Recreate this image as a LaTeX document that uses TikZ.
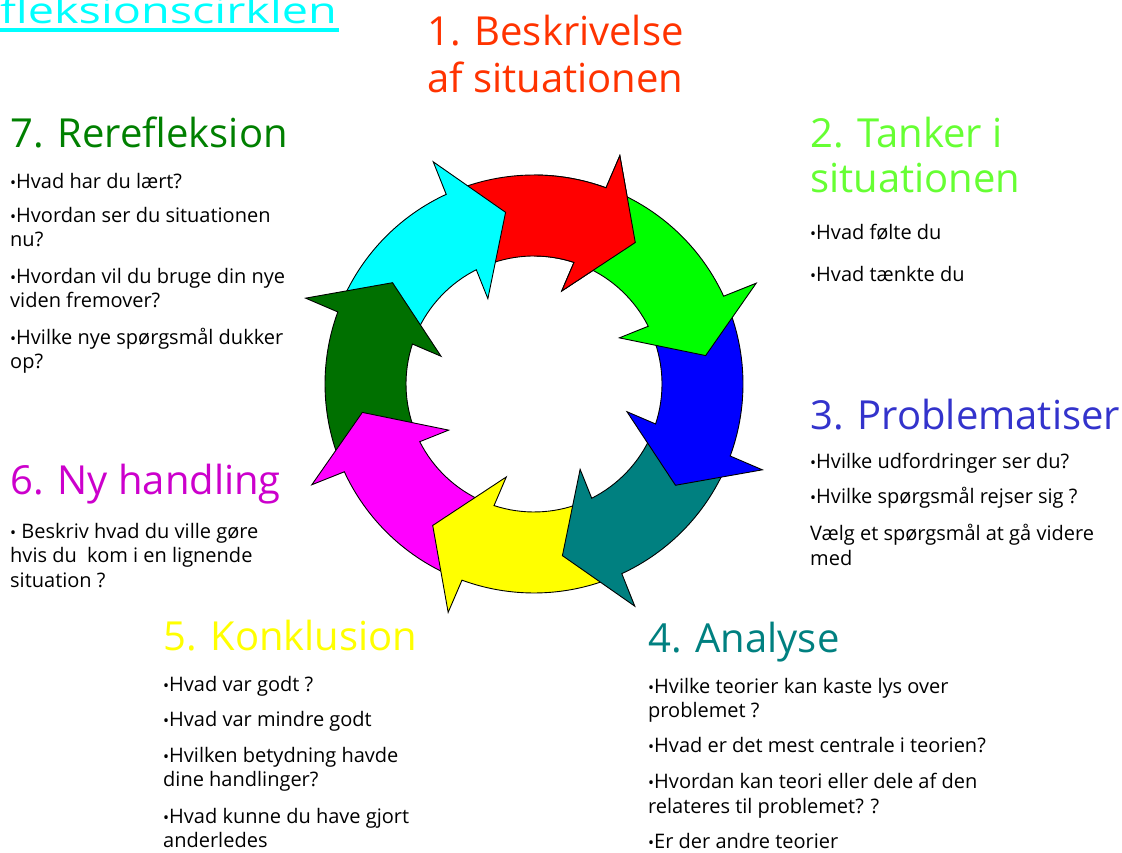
\documentclass[tikz,border=0pt]{standalone}
\usepackage{fontspec}
\setmainfont{Open Sans}
\definecolor{arrowred}{HTML}{FF0000}
\definecolor{arrowgreen}{HTML}{00FF00}
\definecolor{arrowblue}{HTML}{0000FF}
\definecolor{arrowteal}{HTML}{008080}
\definecolor{arrowyellow}{HTML}{FFFF00}
\definecolor{arrowmagenta}{HTML}{FF00FF}
\definecolor{arrowdkgreen}{HTML}{007000}
\definecolor{arrowcyan}{HTML}{00FFFF}
\definecolor{hone}{HTML}{FF3300}
\definecolor{htwo}{HTML}{66FF33}
\definecolor{hthree}{HTML}{3333CC}
\definecolor{hfour}{HTML}{008080}
\definecolor{hfive}{HTML}{FFFF00}
\definecolor{hsix}{HTML}{CC00CC}
\definecolor{hseven}{HTML}{008000}
\definecolor{htitle}{HTML}{00FFFF}
\newcommand\bodyfont{\fontsize{20}{24}\selectfont}
\newcommand\headfont{\fontsize{40}{46}\selectfont}
\newcommand\bul{{\fontsize{16}{16}\selectfont\raisebox{0.5pt}{•}}}
\newcommand\cyclearrow[2]{%
  \filldraw[arrowpart, fill=#2] (#1+57:209) arc[start angle=#1+57, end angle=#1+15.44, radius=209]
    -- (#1+15:244) -- (#1:174) -- (#1+19:97) -- (#1+17.4:128)
    arc[start angle=#1+17.4, end angle=#1+57, radius=128] -- cycle;}
\tikzset{
  body/.style={anchor=base west, inner sep=0pt, font=\bodyfont, text=black},
  head/.style={anchor=base west, inner sep=0pt, font=\headfont},
  arrowpart/.style={draw=black, line width=0.9pt, line join=miter},
  ul/.style={draw=htitle, line width=3.5pt},
}
\begin{document}
\begin{tikzpicture}[x=1pt,y=1pt]
\useasboundingbox (0,0) rectangle (1122,853);
\fill[white] (0,0) rectangle (1122,853);

% cycle of arrows (each head lies over the tail of the next one)
\begin{scope}[shift={(534,469)}]
  \cyclearrow{54.4}{arrowred}
  \cyclearrow{-260.6}{arrowcyan}
  \cyclearrow{-215.6}{arrowdkgreen}
  \cyclearrow{-170.6}{arrowmagenta}
  \cyclearrow{-125.6}{arrowyellow}
  \cyclearrow{-80.6}{arrowteal}
  \cyclearrow{-35.6}{arrowblue}
  \cyclearrow{9.4}{arrowgreen}
  \begin{scope}
    \clip (0,0) -- (35:300) arc[start angle=35, end angle=90, radius=300] -- cycle;
    \cyclearrow{54.4}{arrowred}
  \end{scope}
\end{scope}

% title
\node[head, text=htitle, font=\fontsize{36}{40}\selectfont] (title) at (0,829) {\scalebox{1.3}[1]{fleksionscirklen}};
\draw[ul] ([yshift=-6pt]title.base west) -- ([yshift=-6pt,xshift=2pt]title.base east);

% 1
\node[head, text=hone] (h1a) at (427,807) {1. Beskrivelse};
\node[head, text=hone] (h1b) at (427,760) {af situationen};

% 2
\node[head, text=htwo] (h2a) at (810,705) {2. Tanker i};
\node[head, text=htwo] (h2b) at (810,660) {situationen};
\node[body] (b2a) at (810,613) {\bul Hvad følte du};
\node[body] (b2b) at (810,571) {\bul Hvad tænkte du};

% 3
\node[head, text=hthree] (h3) at (810,423) {3. Problematiser};
\node[body] (b3a) at (810,384) {\bul Hvilke udfordringer ser du?};
\node[body] (b3b) at (810,349) {\bul Hvilke spørgsmål rejser sig ?};
\node[body] (b3c) at (810,312) {Vælg et spørgsmål at gå videre};
\node[body] (b3d) at (810,287) {med};

% 4
\node[head, text=hfour] (h4) at (648,200) {4. Analyse};
\node[body] (b4a) at (648,159) {\bul Hvilke teorier kan kaste lys over};
\node[body] (b4b) at (648,135) {problemet ?};
\node[body] (b4c) at (648,100) {\bul Hvad er det mest centrale i teorien?};
\node[body] (b4d) at (648,64) {\bul Hvordan kan teori eller dele af den};
\node[body] (b4e) at (648,39) {relateres til problemet? ?};
\node[body] (b4f) at (648,4) {\bul Er der andre teorier};

% 5
\node[head, text=hfive] (h5) at (163,202) {5. Konklusion};
\node[body] (b5a) at (163,161) {\bul Hvad var godt ?};
\node[body] (b5b) at (163,126) {\bul Hvad var mindre godt};
\node[body] (b5c) at (163,90) {\bul Hvilken betydning havde};
\node[body] (b5d) at (163,66) {dine handlinger?};
\node[body] (b5e) at (163,29) {\bul Hvad kunne du have gjort};
\node[body] (b5f) at (163,5) {anderledes};

% 6
\node[head, text=hsix] (h6) at (10,358) {6. Ny handling};
\node[body] (b6a) at (10,314) {\bul\ Beskriv hvad du ville gøre};
\node[body] (b6b) at (10,290) {hvis du\ \ kom i en lignende};
\node[body] (b6c) at (10,265) {situation ?};

% 7
\node[head, text=hseven] (h7) at (10,705) {7. Rerefleksion};
\node[body] (b7a) at (10,664) {\bul Hvad har du lært?};
\node[body] (b7b) at (10,630) {\bul Hvordan ser du situationen};
\node[body] (b7c) at (10,606) {nu?};
\node[body] (b7d) at (10,569) {\bul Hvordan vil du bruge din nye};
\node[body] (b7e) at (10,545) {viden fremover?};
\node[body] (b7f) at (10,508) {\bul Hvilke nye spørgsmål dukker};
\node[body] (b7g) at (10,484) {op?};
\end{tikzpicture}
\end{document}
